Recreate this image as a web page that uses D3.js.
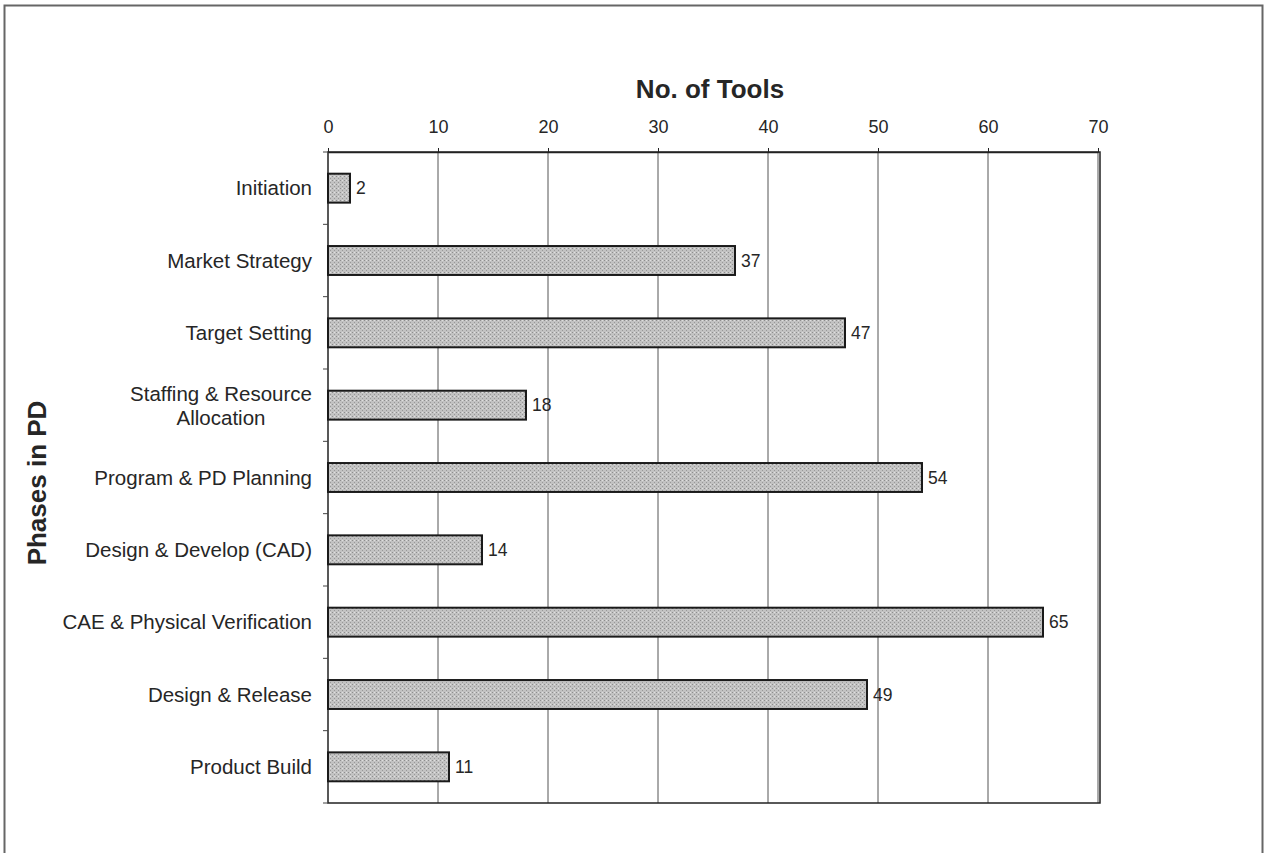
<!DOCTYPE html>
<html>
<head>
<meta charset="utf-8">
<script src="https://cdn.jsdelivr.net/npm/d3@7"></script>
<style>
  body { margin: 0; background: #fff; }
  svg { display: block; }
  text { font-family: "Liberation Sans", Arial, sans-serif; fill: #262626; }
</style>
</head>
<body>
<svg></svg>
<script>
const width = 1264;
const height = 853;

const phases = [
  "Initiation",
  "Market Strategy",
  "Target Setting",
  "Staffing & Resource\nAllocation",
  "Program & PD Planning",
  "Design & Develop (CAD)",
  "CAE & Physical Verification",
  "Design & Release",
  "Product Build",
];
const toolCounts = [2, 37, 47, 18, 54, 14, 65, 49, 11];
const xTicks = [0, 10, 20, 30, 40, 50, 60, 70];

const margin = { left: 328, right: 1100, top: 152, bottom: 803 };
const labelRight = 312;

const svg = d3.select("svg").attr("width", width).attr("height", height);

// dotted texture for the bars
const defs = svg.append("defs");
const pat = defs
  .append("pattern")
  .attr("id", "stipple")
  .attr("width", 4)
  .attr("height", 4)
  .attr("patternUnits", "userSpaceOnUse");
pat.append("rect").attr("width", 4).attr("height", 4).attr("fill", "#c2c2c2");
pat.append("rect").attr("x", 0).attr("y", 0).attr("width", 1).attr("height", 1).attr("fill", "#8e8e8e");
pat.append("rect").attr("x", 2).attr("y", 2).attr("width", 1).attr("height", 1).attr("fill", "#989898");
pat.append("rect").attr("x", 2).attr("y", 0).attr("width", 1).attr("height", 1).attr("fill", "#e0e0e0");

// outer frame
svg
  .append("rect")
  .attr("x", 4.5)
  .attr("y", 5.5)
  .attr("width", 1258)
  .attr("height", 860)
  .attr("fill", "none")
  .attr("stroke", "#666")
  .attr("stroke-width", 2);

const x = d3.scaleLinear().domain([0, 70]).range([margin.left, margin.right - 2]);
const y = d3
  .scaleBand()
  .domain(phases)
  .range([margin.top, margin.bottom])
  .paddingInner(0.6)
  .paddingOuter(0.3);

const step = (margin.bottom - margin.top) / phases.length;

// gridlines
svg
  .append("g")
  .selectAll("line")
  .data(xTicks.slice(1))
  .join("line")
  .attr("x1", (d) => x(d))
  .attr("x2", (d) => x(d))
  .attr("y1", margin.top)
  .attr("y2", margin.bottom)
  .attr("stroke", "#555")
  .attr("stroke-width", 1);

// plot box
svg
  .append("rect")
  .attr("x", margin.left)
  .attr("y", margin.top)
  .attr("width", margin.right - margin.left)
  .attr("height", margin.bottom - margin.top)
  .attr("fill", "none")
  .attr("stroke", "#222")
  .attr("stroke-width", 1.5);

// top axis
const xAxis = svg
  .append("g")
  .attr("transform", `translate(0,${margin.top})`)
  .call(d3.axisTop(x).tickValues(xTicks).tickSize(4).tickPadding(15).tickSizeOuter(0));
xAxis.select(".domain").attr("stroke", "#222").attr("stroke-width", 1.5);
xAxis.selectAll(".tick line").attr("stroke", "#222");
xAxis
  .selectAll(".tick text")
  .attr("font-size", 18)
  .attr("fill", "#262626")
  .style("font-family", '"Liberation Sans", Arial, sans-serif');

// category separators on left axis
svg
  .append("g")
  .selectAll("line")
  .data(d3.range(phases.length + 1))
  .join("line")
  .attr("x1", margin.left - 5)
  .attr("x2", margin.left)
  .attr("y1", (i) => margin.top + i * step)
  .attr("y2", (i) => margin.top + i * step)
  .attr("stroke", "#444");

// bars
svg
  .append("g")
  .selectAll("rect")
  .data(phases)
  .join("rect")
  .attr("x", x(0))
  .attr("y", (d) => y(d))
  .attr("width", (d, i) => x(toolCounts[i]) - x(0))
  .attr("height", y.bandwidth())
  .attr("fill", "url(#stipple)")
  .attr("stroke", "#1a1a1a")
  .attr("stroke-width", 2);

// value labels
svg
  .append("g")
  .selectAll("text")
  .data(phases)
  .join("text")
  .attr("x", (d, i) => x(toolCounts[i]) + 6)
  .attr("y", (d) => y(d) + y.bandwidth() / 2)
  .attr("dy", "0.35em")
  .attr("font-size", 17.5)
  .text((d, i) => toolCounts[i]);

// category labels (wrapped ones are centred under the widest line)
svg
  .append("g")
  .selectAll("text")
  .data(phases)
  .join("text")
  .attr("font-size", 20.5)
  .each(function (d) {
    const t = d3.select(this);
    const lines = d.split("\n");
    const yc = y(d) + y.bandwidth() / 2;
    if (lines.length === 1) {
      t.attr("text-anchor", "end").attr("x", labelRight).attr("y", yc).attr("dy", "0.35em").text(d);
      return;
    }
    const spans = lines.map((line, k) =>
      t.append("tspan").attr("y", yc - 4 + k * 24).text(line)
    );
    const maxW = d3.max(spans, (s) => s.node().getComputedTextLength());
    t.attr("text-anchor", "middle");
    spans.forEach((s) => s.attr("x", labelRight - maxW / 2));
  });

// titles
svg
  .append("text")
  .attr("x", 710)
  .attr("y", 98)
  .attr("text-anchor", "middle")
  .attr("font-size", 26)
  .attr("font-weight", "bold")
  .text("No. of Tools");

svg
  .append("text")
  .attr("transform", "translate(46,483) rotate(-90)")
  .attr("text-anchor", "middle")
  .attr("font-size", 26)
  .attr("font-weight", "bold")
  .text("Phases in PD");
</script>
</body>
</html>
